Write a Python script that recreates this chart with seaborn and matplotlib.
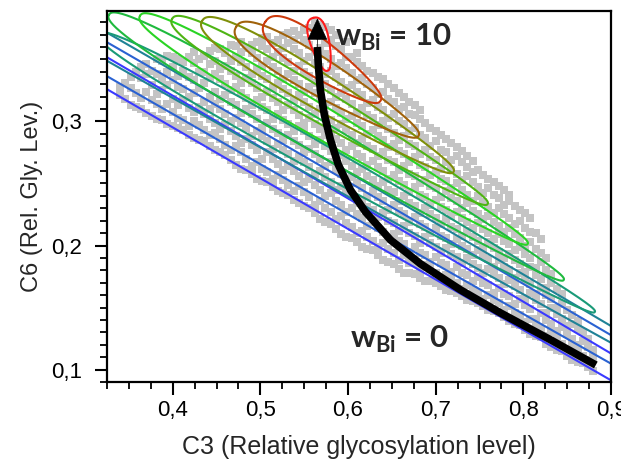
import numpy as np
import pandas as pd
import matplotlib
matplotlib.use("Agg")
import matplotlib.pyplot as plt
from matplotlib.ticker import MultipleLocator, FuncFormatter
import seaborn as sns

# ---------------- data ----------------
# gray simulated points (two interleaved sets of C3 columns with their C6 values)
GRAY_X = [0.340, 0.352, 0.364, 0.376, 0.388, 0.400, 0.412, 0.424, 0.436, 0.448,
          0.460, 0.472, 0.484, 0.496, 0.508, 0.520, 0.532, 0.544, 0.556, 0.568,
          0.580, 0.592, 0.604, 0.616, 0.628, 0.640, 0.652, 0.664, 0.676, 0.688,
          0.700, 0.712, 0.724, 0.736, 0.748, 0.760, 0.772, 0.784, 0.796, 0.808,
          0.820, 0.832, 0.844, 0.856, 0.868, 0.880]
GRAY_Y = [
    [0.321, 0.328],
    [0.313, 0.327, 0.336],
    [0.310, 0.319, 0.335, 0.344],
    [0.304, 0.317, 0.329, 0.341],
    [0.301, 0.310, 0.325, 0.334, 0.349],
    [0.296, 0.308, 0.318, 0.333, 0.344, 0.352],
    [0.293, 0.301, 0.317, 0.326, 0.341, 0.348],
    [0.287, 0.300, 0.308, 0.323, 0.333, 0.347, 0.356],
    [0.284, 0.293, 0.306, 0.316, 0.331, 0.340, 0.353],
    [0.277, 0.291, 0.299, 0.314, 0.324, 0.338, 0.349, 0.359],
    [0.273, 0.281, 0.297, 0.306, 0.321, 0.330, 0.345, 0.355],
    [0.265, 0.280, 0.288, 0.303, 0.313, 0.328, 0.337, 0.352, 0.361],
    [0.261, 0.270, 0.286, 0.295, 0.310, 0.319, 0.335, 0.344, 0.359],
    [0.254, 0.267, 0.277, 0.292, 0.302, 0.317, 0.327, 0.342, 0.351, 0.364],
    [0.251, 0.259, 0.275, 0.284, 0.299, 0.309, 0.324, 0.334, 0.349, 0.358, 0.368],
    [0.244, 0.257, 0.266, 0.282, 0.291, 0.306, 0.316, 0.331, 0.341, 0.356, 0.366],
    [0.241, 0.249, 0.264, 0.274, 0.289, 0.298, 0.313, 0.323, 0.338, 0.348, 0.363, 0.371],
    [0.234, 0.248, 0.256, 0.271, 0.281, 0.296, 0.305, 0.321, 0.330, 0.345, 0.355, 0.370],
    [0.230, 0.239, 0.254, 0.263, 0.278, 0.288, 0.303, 0.312, 0.328, 0.337, 0.352, 0.362, 0.375],
    [0.221, 0.236, 0.245, 0.260, 0.270, 0.285, 0.294, 0.310, 0.319, 0.335, 0.344, 0.359, 0.369, 0.378],
    [0.217, 0.227, 0.242, 0.251, 0.267, 0.276, 0.291, 0.301, 0.316, 0.325, 0.341, 0.350, 0.366, 0.374],
    [0.209, 0.224, 0.233, 0.248, 0.258, 0.273, 0.283, 0.298, 0.307, 0.323, 0.332, 0.347, 0.358],
    [0.206, 0.215, 0.230, 0.240, 0.255, 0.264, 0.280, 0.289, 0.304, 0.314, 0.329, 0.339, 0.352],
    [0.199, 0.212, 0.222, 0.237, 0.246, 0.262, 0.271, 0.286, 0.296, 0.311, 0.321, 0.335, 0.345],
    [0.196, 0.204, 0.219, 0.229, 0.244, 0.253, 0.268, 0.278, 0.293, 0.303, 0.317, 0.327, 0.339],
    [0.188, 0.202, 0.211, 0.226, 0.236, 0.251, 0.260, 0.275, 0.285, 0.300, 0.309, 0.324, 0.334],
    [0.185, 0.194, 0.209, 0.218, 0.233, 0.243, 0.257, 0.267, 0.282, 0.291, 0.306, 0.316, 0.327],
    [0.178, 0.192, 0.201, 0.216, 0.225, 0.240, 0.249, 0.264, 0.274, 0.288, 0.298, 0.312, 0.320],
    [0.177, 0.186, 0.199, 0.208, 0.223, 0.232, 0.247, 0.256, 0.271, 0.280, 0.295, 0.305, 0.313],
    [0.171, 0.184, 0.192, 0.207, 0.215, 0.230, 0.239, 0.253, 0.263, 0.277, 0.287, 0.299],
    [0.170, 0.178, 0.191, 0.199, 0.214, 0.222, 0.237, 0.246, 0.260, 0.269, 0.284, 0.292],
    [0.164, 0.176, 0.184, 0.198, 0.206, 0.221, 0.229, 0.244, 0.252, 0.267, 0.275, 0.286],
    [0.162, 0.170, 0.183, 0.191, 0.205, 0.213, 0.227, 0.236, 0.250, 0.258, 0.272, 0.279],
    [0.156, 0.168, 0.176, 0.190, 0.197, 0.212, 0.219, 0.234, 0.241, 0.256, 0.263, 0.272],
    [0.154, 0.162, 0.175, 0.182, 0.196, 0.204, 0.218, 0.225, 0.240, 0.247, 0.261],
    [0.148, 0.160, 0.168, 0.181, 0.189, 0.203, 0.210, 0.224, 0.231, 0.246, 0.254],
    [0.146, 0.154, 0.166, 0.174, 0.188, 0.195, 0.209, 0.216, 0.230, 0.238, 0.248],
    [0.139, 0.151, 0.159, 0.172, 0.180, 0.193, 0.201, 0.214, 0.222, 0.236, 0.241],
    [0.136, 0.144, 0.157, 0.164, 0.178, 0.185, 0.199, 0.206, 0.220, 0.229],
    [0.129, 0.141, 0.149, 0.162, 0.169, 0.183, 0.190, 0.203, 0.211, 0.222],
    [0.126, 0.133, 0.146, 0.153, 0.166, 0.173, 0.187, 0.194, 0.205],
    [0.118, 0.130, 0.137, 0.150, 0.157, 0.170, 0.177],
    [0.115, 0.121, 0.134, 0.141, 0.153, 0.161],
    [0.108, 0.118, 0.125, 0.137, 0.144],
    [0.105, 0.111, 0.123, 0.130],
    [0.099, 0.109, 0.116],
]
GRAY_X2 = [0.346, 0.358, 0.370, 0.382, 0.394, 0.406, 0.418, 0.430, 0.442, 0.454,
           0.466, 0.478, 0.490, 0.502, 0.514, 0.526, 0.538, 0.550, 0.562, 0.574,
           0.586, 0.598, 0.610, 0.622, 0.634, 0.646, 0.658, 0.670, 0.682, 0.694,
           0.706, 0.718, 0.730, 0.742, 0.754, 0.766, 0.778, 0.790, 0.802, 0.814,
           0.826, 0.838, 0.850, 0.862, 0.874]
GRAY_Y2 = [
    [0.318, 0.331],
    [0.312, 0.323, 0.340],
    [0.307, 0.324, 0.338, 0.346],
    [0.302, 0.314, 0.322, 0.338, 0.350],
    [0.298, 0.314, 0.329, 0.340, 0.353],
    [0.295, 0.303, 0.313, 0.328, 0.337, 0.350],
    [0.289, 0.296, 0.311, 0.320, 0.336, 0.352],
    [0.285, 0.297, 0.312, 0.327, 0.340, 0.350],
    [0.280, 0.289, 0.302, 0.310, 0.320, 0.335, 0.346, 0.357],
    [0.275, 0.286, 0.294, 0.310, 0.318, 0.334, 0.342, 0.358],
    [0.269, 0.277, 0.292, 0.300, 0.316, 0.325, 0.341, 0.349, 0.362],
    [0.262, 0.275, 0.283, 0.299, 0.307, 0.323, 0.331, 0.348, 0.356, 0.364],
    [0.258, 0.264, 0.281, 0.288, 0.306, 0.313, 0.331, 0.338, 0.355, 0.362],
    [0.252, 0.262, 0.270, 0.288, 0.295, 0.312, 0.320, 0.337, 0.345, 0.361, 0.367],
    [0.247, 0.254, 0.270, 0.278, 0.294, 0.302, 0.319, 0.327, 0.344, 0.352, 0.363],
    [0.242, 0.253, 0.261, 0.277, 0.285, 0.301, 0.309, 0.326, 0.334, 0.351, 0.359, 0.370],
    [0.237, 0.244, 0.260, 0.268, 0.284, 0.292, 0.309, 0.317, 0.333, 0.341, 0.358, 0.366, 0.373],
    [0.232, 0.243, 0.251, 0.267, 0.275, 0.292, 0.299, 0.316, 0.324, 0.340, 0.349, 0.366, 0.374],
    [0.226, 0.233, 0.249, 0.258, 0.274, 0.282, 0.298, 0.306, 0.323, 0.331, 0.347, 0.356, 0.372, 0.380],
    [0.219, 0.230, 0.240, 0.255, 0.264, 0.280, 0.289, 0.305, 0.314, 0.330, 0.338, 0.354, 0.363, 0.376],
    [0.213, 0.221, 0.236, 0.245, 0.261, 0.270, 0.286, 0.295, 0.311, 0.320, 0.336, 0.345, 0.361, 0.370],
    [0.207, 0.218, 0.227, 0.243, 0.252, 0.268, 0.277, 0.293, 0.302, 0.318, 0.327, 0.343, 0.352, 0.364],
    [0.203, 0.210, 0.225, 0.234, 0.250, 0.259, 0.274, 0.283, 0.299, 0.308, 0.324, 0.333, 0.348, 0.355],
    [0.197, 0.207, 0.216, 0.231, 0.240, 0.256, 0.265, 0.280, 0.290, 0.305, 0.315, 0.330, 0.341],
    [0.192, 0.199, 0.214, 0.223, 0.239, 0.248, 0.263, 0.272, 0.288, 0.297, 0.312, 0.322, 0.336],
    [0.187, 0.197, 0.205, 0.220, 0.229, 0.245, 0.254, 0.269, 0.279, 0.294, 0.303, 0.318, 0.330],
    [0.181, 0.188, 0.204, 0.212, 0.228, 0.236, 0.252, 0.261, 0.276, 0.285, 0.300, 0.310, 0.323],
    [0.178, 0.186, 0.195, 0.210, 0.219, 0.234, 0.243, 0.258, 0.267, 0.282, 0.292, 0.306, 0.316],
    [0.174, 0.180, 0.194, 0.202, 0.217, 0.226, 0.241, 0.250, 0.265, 0.274, 0.289, 0.302, 0.309],
    [0.171, 0.181, 0.187, 0.202, 0.210, 0.225, 0.233, 0.248, 0.257, 0.271, 0.280, 0.295],
    [0.167, 0.173, 0.186, 0.194, 0.208, 0.217, 0.231, 0.239, 0.254, 0.262, 0.277, 0.289],
    [0.163, 0.172, 0.179, 0.193, 0.201, 0.215, 0.224, 0.238, 0.246, 0.261, 0.269, 0.283],
    [0.159, 0.165, 0.178, 0.186, 0.200, 0.208, 0.222, 0.230, 0.245, 0.253, 0.267, 0.276],
    [0.155, 0.164, 0.171, 0.185, 0.192, 0.207, 0.214, 0.228, 0.236, 0.251, 0.259, 0.268],
    [0.151, 0.157, 0.170, 0.178, 0.192, 0.199, 0.213, 0.221, 0.235, 0.242, 0.257],
    [0.147, 0.156, 0.162, 0.177, 0.183, 0.198, 0.205, 0.219, 0.226, 0.241, 0.251],
    [0.142, 0.148, 0.161, 0.169, 0.183, 0.190, 0.204, 0.211, 0.225, 0.233, 0.245],
    [0.137, 0.146, 0.153, 0.167, 0.174, 0.188, 0.196, 0.209, 0.217, 0.232],
    [0.132, 0.138, 0.152, 0.158, 0.172, 0.179, 0.193, 0.200, 0.214, 0.226],
    [0.127, 0.136, 0.141, 0.156, 0.161, 0.176, 0.182, 0.197, 0.210],
    [0.121, 0.127, 0.140, 0.146, 0.160, 0.166, 0.180, 0.190],
    [0.116, 0.125, 0.131, 0.145, 0.150, 0.165],
    [0.111, 0.116, 0.129, 0.135, 0.148],
    [0.106, 0.114, 0.120, 0.133, 0.139],
    [0.102, 0.108, 0.118, 0.125],
]

# density contours for w_Bi = 0 ... 10: tip-to-tip extent and half width (C6 units)
W_BI = [0, 1, 2, 3, 4, 5, 6, 7, 8, 9, 10]
TIP1_X = [-0.3687, -0.3687, -0.2544, 0.3147, 0.3273, 0.3627, 0.3993, 0.4336, 0.4724, 0.5056, 0.5604]
TIP1_Y = [0.6244, 0.6323, 0.5938, 0.3706, 0.3860, 0.3852, 0.3827, 0.3811, 0.3763, 0.3803, 0.3835]
TIP2_X = [1.5970, 1.5970, 1.1170, 0.8816, 0.8461, 0.8050, 0.7593, 0.7204, 0.6804, 0.6370, 0.5764]
TIP2_Y = [-0.1848, -0.1673, 0.0408, 0.1465, 0.1723, 0.2013, 0.2335, 0.2594, 0.2884, 0.3166, 0.3408]
HALF_W = [0.0106, 0.0113, 0.0095, 0.0110, 0.0125, 0.0125, 0.0127, 0.0138, 0.0145, 0.0145, 0.0075]
COLORS = ['#3a3aff', '#2a62d2', '#1f8296', '#1a9a78', '#1fba3e', '#2ad424',
          '#4fb414', '#7f8f0a', '#a0620a', '#cc3a0c', '#ff1a1a']

# black trend arrow (w_Bi = 0 -> 10)
ARROW_X = [0.8827, 0.8313, 0.7741, 0.7284, 0.6827, 0.6484, 0.6199, 0.6027,
           0.5890, 0.5799, 0.5730, 0.5684, 0.5661, 0.5650]
ARROW_Y = [0.1037, 0.1239, 0.1456, 0.1642, 0.1852, 0.2045, 0.2271, 0.2448,
           0.2650, 0.2852, 0.3053, 0.3255, 0.3456, 0.3600]
ARROW_TIP = (0.5650, 0.3830)

X_LABEL = "C3 (Relative glycosylation level)"
Y_LABEL = "C6 (Rel. Gly. Lev.)"

# ---------------- figure ----------------
sns.set_style("ticks")
plt.rcParams['font.family'] = ['Liberation Sans', 'DejaVu Sans']
plt.rcParams['mathtext.fontset'] = 'custom'
plt.rcParams['mathtext.bf'] = 'Lato:bold'
plt.rcParams['mathtext.rm'] = 'Lato'

fig = plt.figure(figsize=(6.21, 4.62), dpi=100)
ax = fig.add_axes([107 / 621, 80 / 462, 504 / 621, 371 / 462])
ax.set_xlim(0.325, 0.9)
ax.set_ylim(0.09, 0.389)

gx, gy = [], []
for xs_, ys_ in ((GRAY_X, GRAY_Y), (GRAY_X2, GRAY_Y2)):
    for x, ys in zip(xs_, ys_):
        for y in ys:
            gx.append(x)
            gy.append(y)
gray = pd.DataFrame({"C3": gx, "C6": gy})
sns.scatterplot(data=gray, x="C3", y="C6", marker="s", s=26, color="#c4c4c4",
                linewidth=0, ax=ax, legend=False, zorder=1)

# contours (egg-shaped outlines built in display space)
EGG = 0.3
to_disp = ax.transData
to_data = ax.transData.inverted()
py_per_unit = to_disp.transform((0, 1))[1] - to_disp.transform((0, 0))[1]
phi = np.linspace(0, 2 * np.pi, 600)
t = -np.cos(phi)
s_ = np.sin(phi)
for i, w in enumerate(W_BI):
    p1 = to_disp.transform((TIP1_X[i], TIP1_Y[i]))
    p2 = to_disp.transform((TIP2_X[i], TIP2_Y[i]))
    c = (p1 + p2) / 2
    a = (p2 - p1) / 2
    L = np.hypot(*a)
    perp = np.array([-a[1], a[0]]) / L
    hw = HALF_W[i] * py_per_unit
    prof = np.sign(s_) * np.abs(s_) ** 0.8 * (1 - EGG * t) * hw
    pts = c + t[:, None] * a + prof[:, None] * perp
    d = to_data.transform(pts)
    sns.lineplot(x=d[:, 0], y=d[:, 1], sort=False, estimator=None,
                 color=COLORS[i], lw=1.5, ax=ax, zorder=2)

# arrow
sns.lineplot(x=ARROW_X, y=ARROW_Y, sort=False, estimator=None, color="black",
             lw=5.5, ax=ax, zorder=4)
ax.lines[-1].set_solid_capstyle("butt")
ax.lines[-1].set_solid_joinstyle("round")
ax.annotate("", xy=ARROW_TIP, xytext=(ARROW_X[-1], ARROW_Y[-1]),
            arrowprops=dict(arrowstyle="-|>,head_length=0.9,head_width=0.42",
                            mutation_scale=16, color="black", lw=0.5,
                            shrinkA=0, shrinkB=0), zorder=5)

ax.text(0.5856, 0.361, r"$\mathbf{w}_{\mathbf{Bi}}$ = 10", fontsize=22.5,
        fontweight="bold", family=["Lato", "DejaVu Sans"], ha="left", va="baseline", zorder=6)
ax.text(0.6027, 0.1174, r"$\mathbf{w}_{\mathbf{Bi}}$ = 0", fontsize=22.5,
        fontweight="bold", family=["Lato", "DejaVu Sans"], ha="left", va="baseline", zorder=6)

# axes styling
fmt = FuncFormatter(lambda v, p: f"{v:.1f}".replace(".", ","))
ax.xaxis.set_major_locator(MultipleLocator(0.1))
ax.xaxis.set_minor_locator(MultipleLocator(0.025))
ax.yaxis.set_major_locator(MultipleLocator(0.1))
ax.yaxis.set_minor_locator(MultipleLocator(0.01))
ax.xaxis.set_major_formatter(fmt)
ax.yaxis.set_major_formatter(fmt)
ax.tick_params(which="major", direction="out", length=9, width=1.5,
               labelsize=16, color="black", labelcolor="black")
ax.tick_params(which="minor", direction="out", length=5, width=1.3, color="black")
ax.tick_params(axis="x", which="major", pad=4)
ax.tick_params(axis="y", which="major", pad=9)
ax.tick_params(top=False, right=False, which="both")
for s in ax.spines.values():
    s.set_visible(True)
    s.set_linewidth(1.6)
    s.set_color("black")

ax.set_xlabel(X_LABEL, fontsize=18, labelpad=10)
ax.set_ylabel(Y_LABEL, fontsize=17, labelpad=6)

fig.savefig("out.png", dpi=100)
